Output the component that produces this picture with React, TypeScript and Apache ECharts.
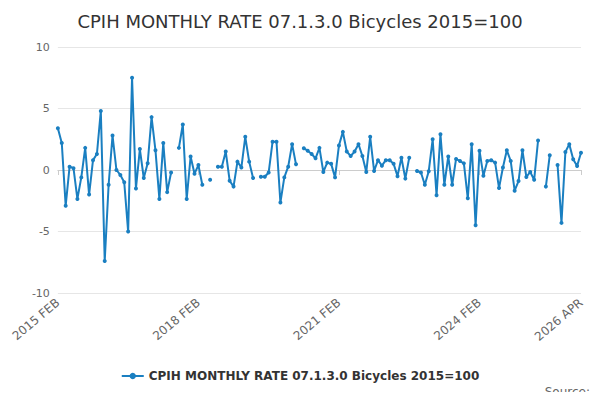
import React, { useEffect, useRef } from "react";
import * as echarts from "echarts";

const values: (number | null)[] = [
  3.4, 2.2, -2.9, 0.27, 0.15, -2.35, -0.6, 1.8, -2.0, 0.8, 1.3, 4.8,
  -7.4, -1.2, 2.8, 0.0, -0.4, -1.0, -5.0, 7.5, -1.5, 1.7, -0.65, 0.55,
  4.3, 1.6, -2.35, 2.2, -1.8, -0.2, null, 1.8, 3.7, -2.35, 1.1, -0.3,
  0.4, -1.2, null, -0.8, null, 0.27, 0.27, 1.5, -0.87, -1.35, 0.68, 0.2,
  2.7, 0.68, -0.65, null, -0.55, -0.55, -0.2, 2.3, 2.3, -2.65, -0.6, 0.27,
  2.1, 0.46, null, 1.76, 1.57, 1.3, 0.95, 1.8, -0.16, 0.6, 0.5, -0.6,
  2.0, 3.1, 1.5, 1.14, 1.5, 2.1, 1.14, -0.16, 2.7, -0.08, 0.8, 0.35,
  0.8, 0.8, 0.5, -0.5, 1.0, -0.7, 1.0, null, -0.08, -0.2, -1.2, -0.1,
  2.5, -2.05, 2.9, -1.2, 1.1, -1.2, 0.9, 0.73, 0.54, -2.3, 2.1, -4.5,
  1.57, -0.46, 0.73, 0.8, 0.6, -1.46, 0.2, 1.6, 0.73, -1.68, -0.9, 1.6,
  -0.57, -0.16, -0.8, 2.4, null, -1.35, 1.2, null, 0.4, -4.3, 1.46, 2.1,
  0.87, 0.33, 1.4,
];
const MONTHS = ["JAN","FEB","MAR","APR","MAY","JUN","JUL","AUG","SEP","OCT","NOV","DEC"];
const categories: string[] = values.map((_, i) => {
  const m = 1 + i;
  return `${2015 + Math.floor(m / 12)} ${MONTHS[m % 12]}`;
});
const shownLabels = [0, 36, 72, 108, 134];
const seriesName = "CPIH MONTHLY RATE 07.1.3.0 Bicycles 2015=100";

export default function App() {
  const ref = useRef<HTMLDivElement>(null);
  useEffect(() => {
    const chart = echarts.init(ref.current!, null, { renderer: "svg" });
    chart.setOption({
      animation: false,
      title: { text: "CPIH MONTHLY RATE 07.1.3.0 Bicycles 2015=100", left: "center", top: -1,
        textStyle: { fontFamily: "DejaVu Sans", fontWeight: "normal", fontSize: 18, color: "#333" } },
      grid: { left: 37, right: 11, top: 39, bottom: 99 },
      legend: { bottom: 5, left: "center", data: [seriesName], itemWidth: 22, itemHeight: 8,
        textStyle: { fontFamily: "DejaVu Sans", fontWeight: "bold", fontSize: 12, color: "#333" } },
      graphic: [{ type: "text", right: 2, bottom: -6,
        style: { text: "Source:", fontFamily: "DejaVu Sans", fontSize: 12, fill: "#666" } }],
      xAxis: {
        type: "category", data: categories, boundaryGap: false,
        axisLine: { lineStyle: { color: "#ccc" } },
        axisTick: { show: true, alignWithLabel: true, interval: (i: number) => shownLabels.includes(i), lineStyle: { color: "#ccc" } },
        splitLine: { show: false },
        axisLabel: { interval: (i: number) => shownLabels.includes(i), rotate: 40, color: "#666",
          fontFamily: "DejaVu Sans", fontSize: 12, showMaxLabel: true },
      },
      yAxis: {
        type: "value", min: -10, max: 10, interval: 5,
        axisLabel: { color: "#666", fontFamily: "DejaVu Sans", fontSize: 11 },
        splitLine: { lineStyle: { color: "#e6e6e6" } },
      },
      series: [{
        name: seriesName, type: "line", data: values, connectNulls: false,
        showSymbol: true, showAllSymbol: true,
        symbol: "circle", symbolSize: 4, itemStyle: { color: "#1a7fc1" },
        lineStyle: { width: 2, color: "#1a7fc1" },
      }],
    });
    return () => chart.dispose();
  }, []);
  return <div ref={ref} style={{ width: 584, height: 384 }} />;
}
